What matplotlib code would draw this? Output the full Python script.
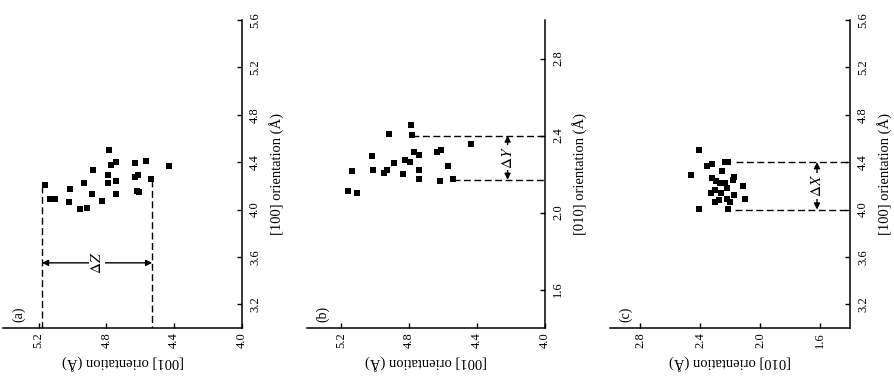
import matplotlib
matplotlib.use('Agg')
import matplotlib.pyplot as plt

plt.rcParams['font.family'] = ['Liberation Serif', 'DejaVu Serif']
plt.rcParams['mathtext.fontset'] = 'stix'

# panel (a): [001] (horizontal) vs [100] (vertical)
a_001 = [5.163, 5.135, 5.106, 5.015, 5.018, 4.953, 4.914, 4.931, 4.887, 4.877,
         4.828, 4.790, 4.790, 4.784, 4.775, 4.741, 4.741, 4.741, 4.634, 4.630,
         4.614, 4.622, 4.608, 4.569, 4.535, 4.430]
a_100 = [4.205, 4.093, 4.090, 4.177, 4.065, 4.003, 4.011, 4.222, 4.135, 4.331,
         4.073, 4.291, 4.223, 4.503, 4.372, 4.402, 4.243, 4.131, 4.392, 4.275,
         4.289, 4.160, 4.146, 4.410, 4.255, 4.365]

# panel (b): [001] (horizontal) vs [010] (vertical)
b_001 = [5.161, 5.106, 5.136, 5.017, 5.013, 4.948, 4.931, 4.915, 4.886, 4.837,
         4.821, 4.794, 4.786, 4.784, 4.773, 4.743, 4.743, 4.743, 4.636, 4.609,
         4.616, 4.570, 4.544, 4.433]
b_010 = [2.111, 2.100, 2.218, 2.296, 2.220, 2.204, 2.222, 2.409, 2.258, 2.199,
         2.275, 2.261, 2.457, 2.404, 2.312, 2.298, 2.222, 2.173, 2.312, 2.324,
         2.166, 2.240, 2.175, 2.358]

# panel (c): [010] (horizontal) vs [100] (vertical)
c_010 = [2.407, 2.355, 2.317, 2.461, 2.236, 2.215, 2.254, 2.317, 2.294, 2.265,
         2.234, 2.182, 2.171, 2.114, 2.218, 2.303, 2.328, 2.261, 2.175, 2.222,
         2.276, 2.299, 2.202, 2.097, 2.409, 2.211]
c_100 = [4.499, 4.365, 4.385, 4.295, 4.404, 4.404, 4.326, 4.267, 4.238, 4.225,
         4.222, 4.253, 4.275, 4.202, 4.183, 4.168, 4.143, 4.137, 4.120, 4.093,
         4.082, 4.067, 4.067, 4.093, 4.008, 4.003]

# spread markers
a_dz_edges = [5.18, 4.53]
a_dz_tops = [4.20, 4.25]
a_dz_level = 3.55
b_dy_levels = [2.40, 2.17]
b_dy_starts = [4.78, 4.54]
b_dy_pos = 4.22
c_dx_levels = [4.40, 4.00]
c_dx_starts = [2.16, 2.17]
c_dx_pos = 1.62

ticks_100 = [3.2, 3.6, 4.0, 4.4, 4.8, 5.2, 5.6]
ticks_001 = [5.2, 4.8, 4.4, 4.0]
ticks_010_v = [1.6, 2.0, 2.4, 2.8]
ticks_010_h = [2.8, 2.4, 2.0, 1.6]

DASH = dict(color='black', lw=1.0, ls=(0, (5, 2.5)))


def draw_panel(fig, rect, h_vals, v_vals, h_lim, v_lim, h_ticks, v_ticks,
               h_label, v_label, tag):
    ax = fig.add_axes(rect)
    ax.scatter(h_vals, v_vals, marker='s', s=22, color='black', linewidths=0, zorder=3)
    ax.set_xlim(h_lim)
    ax.set_ylim(v_lim)

    ax.spines['top'].set_visible(False)
    ax.spines['left'].set_visible(False)
    for side in ['right', 'bottom']:
        ax.spines[side].set_linewidth(1.1)
    ax.yaxis.tick_right()
    ax.yaxis.set_label_position('right')
    ax.tick_params(direction='in', length=3.5, width=1.0, labelsize=9)
    ax.tick_params(axis='y', pad=5)
    ax.tick_params(axis='x', pad=3)

    ax.set_xticks(h_ticks)
    ax.set_xticklabels(['%.1f' % t for t in h_ticks], rotation=90)
    ax.set_yticks(v_ticks)
    ax.set_yticklabels(['%.1f' % t for t in v_ticks], rotation=90, va='center')

    ax.set_xlabel(h_label, rotation=180, fontsize=10.5, labelpad=5)
    ax.set_ylabel(v_label, rotation=90, fontsize=10.5, labelpad=6)
    ax.text(0.067, 0.045, tag, transform=ax.transAxes, rotation=90,
            ha='center', va='center', fontsize=10)
    return ax


def spread_arrow(ax, p0, p1, text):
    ax.annotate('', xy=p0, xytext=p1,
                arrowprops=dict(arrowstyle='<|-|>', color='black', lw=1.0,
                                mutation_scale=9, shrinkA=0, shrinkB=0))
    ax.text((p0[0] + p1[0]) / 2, (p0[1] + p1[1]) / 2, text, rotation=90,
            ha='center', va='center', fontsize=11,
            bbox=dict(facecolor='white', edgecolor='none', pad=1.0))


def main():
    fig = plt.figure(figsize=(8.95, 3.91), dpi=100)

    # (a)
    ax = draw_panel(fig, [3 / 895, 63 / 391, 239 / 895, 308 / 391], a_001, a_100,
                    (5.41, 4.0), (3.0, 5.6), ticks_001, ticks_100,
                    '[001] orientation (Å)', '[100] orientation (Å)', '(a)')
    for x, top in zip(a_dz_edges, a_dz_tops):
        ax.plot([x, x], [top, 3.0], **DASH)
    spread_arrow(ax, (a_dz_edges[0], a_dz_level), (a_dz_edges[1], a_dz_level), r'$\Delta Z$')

    # (b)
    ax = draw_panel(fig, [307 / 895, 63 / 391, 238 / 895, 308 / 391], b_001, b_010,
                    (5.40, 4.0), (1.4, 3.0), ticks_001, ticks_010_v,
                    '[001] orientation (Å)', '[010] orientation (Å)', '(b)')
    for y, x0 in zip(b_dy_levels, b_dy_starts):
        ax.plot([x0, 4.0], [y, y], **DASH)
    spread_arrow(ax, (b_dy_pos, b_dy_levels[0]), (b_dy_pos, b_dy_levels[1]), r'$\Delta Y$')

    # (c)
    ax = draw_panel(fig, [610 / 895, 63 / 391, 240 / 895, 308 / 391], c_010, c_100,
                    (3.0, 1.4), (3.0, 5.6), ticks_010_h, ticks_100,
                    '[010] orientation (Å)', '[100] orientation (Å)', '(c)')
    for y, x0 in zip(c_dx_levels, c_dx_starts):
        ax.plot([x0, 1.4], [y, y], **DASH)
    spread_arrow(ax, (c_dx_pos, c_dx_levels[0]), (c_dx_pos, c_dx_levels[1]), r'$\Delta X$')

    fig.savefig('out.png', dpi=100)


if __name__ == "__main__":
    main()
